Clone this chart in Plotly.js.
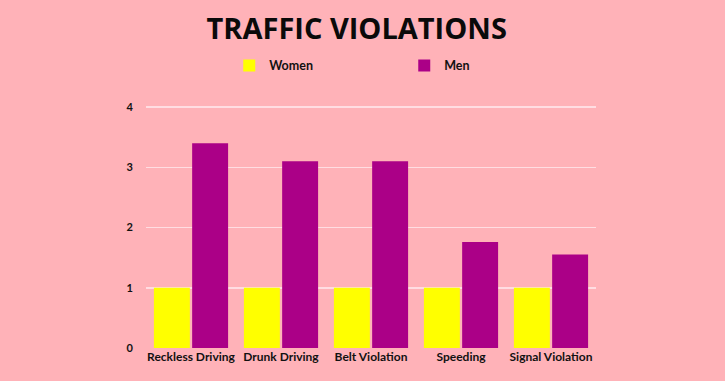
<!DOCTYPE html>
<html>
<head>
<meta charset="utf-8">
<script src="https://cdn.plot.ly/plotly-3.0.1.min.js"></script>
<style>html,body{margin:0;padding:0;background:#FFB2B8;}</style>
</head>
<body>
<div id="chart" style="width:725px;height:381px;"></div>
<script>
const categories = ["Reckless Driving", "Drunk Driving", "Belt Violation", "Speeding", "Signal Violation"];
const women = [1, 1, 1, 1, 1];
const men = [3.4, 3.1, 3.1, 1.76, 1.55];
const yTicks = [0, 1, 2, 3, 4];

const traces = [
  {type: "bar", name: "Women", x: categories, y: women, marker: {color: "#FFFF00"}, hoverinfo: "skip"},
  {type: "bar", name: "Men", x: categories, y: men, marker: {color: "#AB0087"}, hoverinfo: "skip"}
];

const layout = {
  width: 725, height: 381,
  paper_bgcolor: "#FFB2B8", plot_bgcolor: "#FFB2B8",
  margin: {l: 146, r: 129, t: 104, b: 33, pad: 0},
  barmode: "group", bargap: 0.15, bargroupgap: 0.06,
  font: {family: "Lato, 'Open Sans', sans-serif", color: "#111111"},
  title: {text: "<b>TRAFFIC VIOLATIONS</b>", x: 0.492, xanchor: "center", y: 0.925, yanchor: "middle",
          font: {family: "'Open Sans', Lato, sans-serif", size: 29, color: "#0a0a0a", weight: 800}},
  showlegend: true,
  legend: {orientation: "h", x: 0.185, xanchor: "left", y: 1.156, yanchor: "middle",
           entrywidth: 130, entrywidthmode: "pixels",
           font: {size: 12.5, weight: 700, color: "#111"}, bgcolor: "rgba(0,0,0,0)"},
  xaxis: {tickfont: {size: 12, weight: 700, color: "#111"}, showgrid: false, zeroline: false,
          showline: false, ticks: "", fixedrange: true},
  yaxis: {range: [0, 4.05], tickvals: yTicks, ticktext: yTicks.map(String), gridcolor: "#FFDDE2", gridwidth: 1.5,
          zeroline: false, showline: false, ticks: "", ticklabelstandoff: 12,
          tickfont: {size: 11, weight: 700, color: "#111"}, fixedrange: true}
};

Plotly.newPlot("chart", traces, layout, {displayModeBar: false, staticPlot: true});
</script>
</body>
</html>
